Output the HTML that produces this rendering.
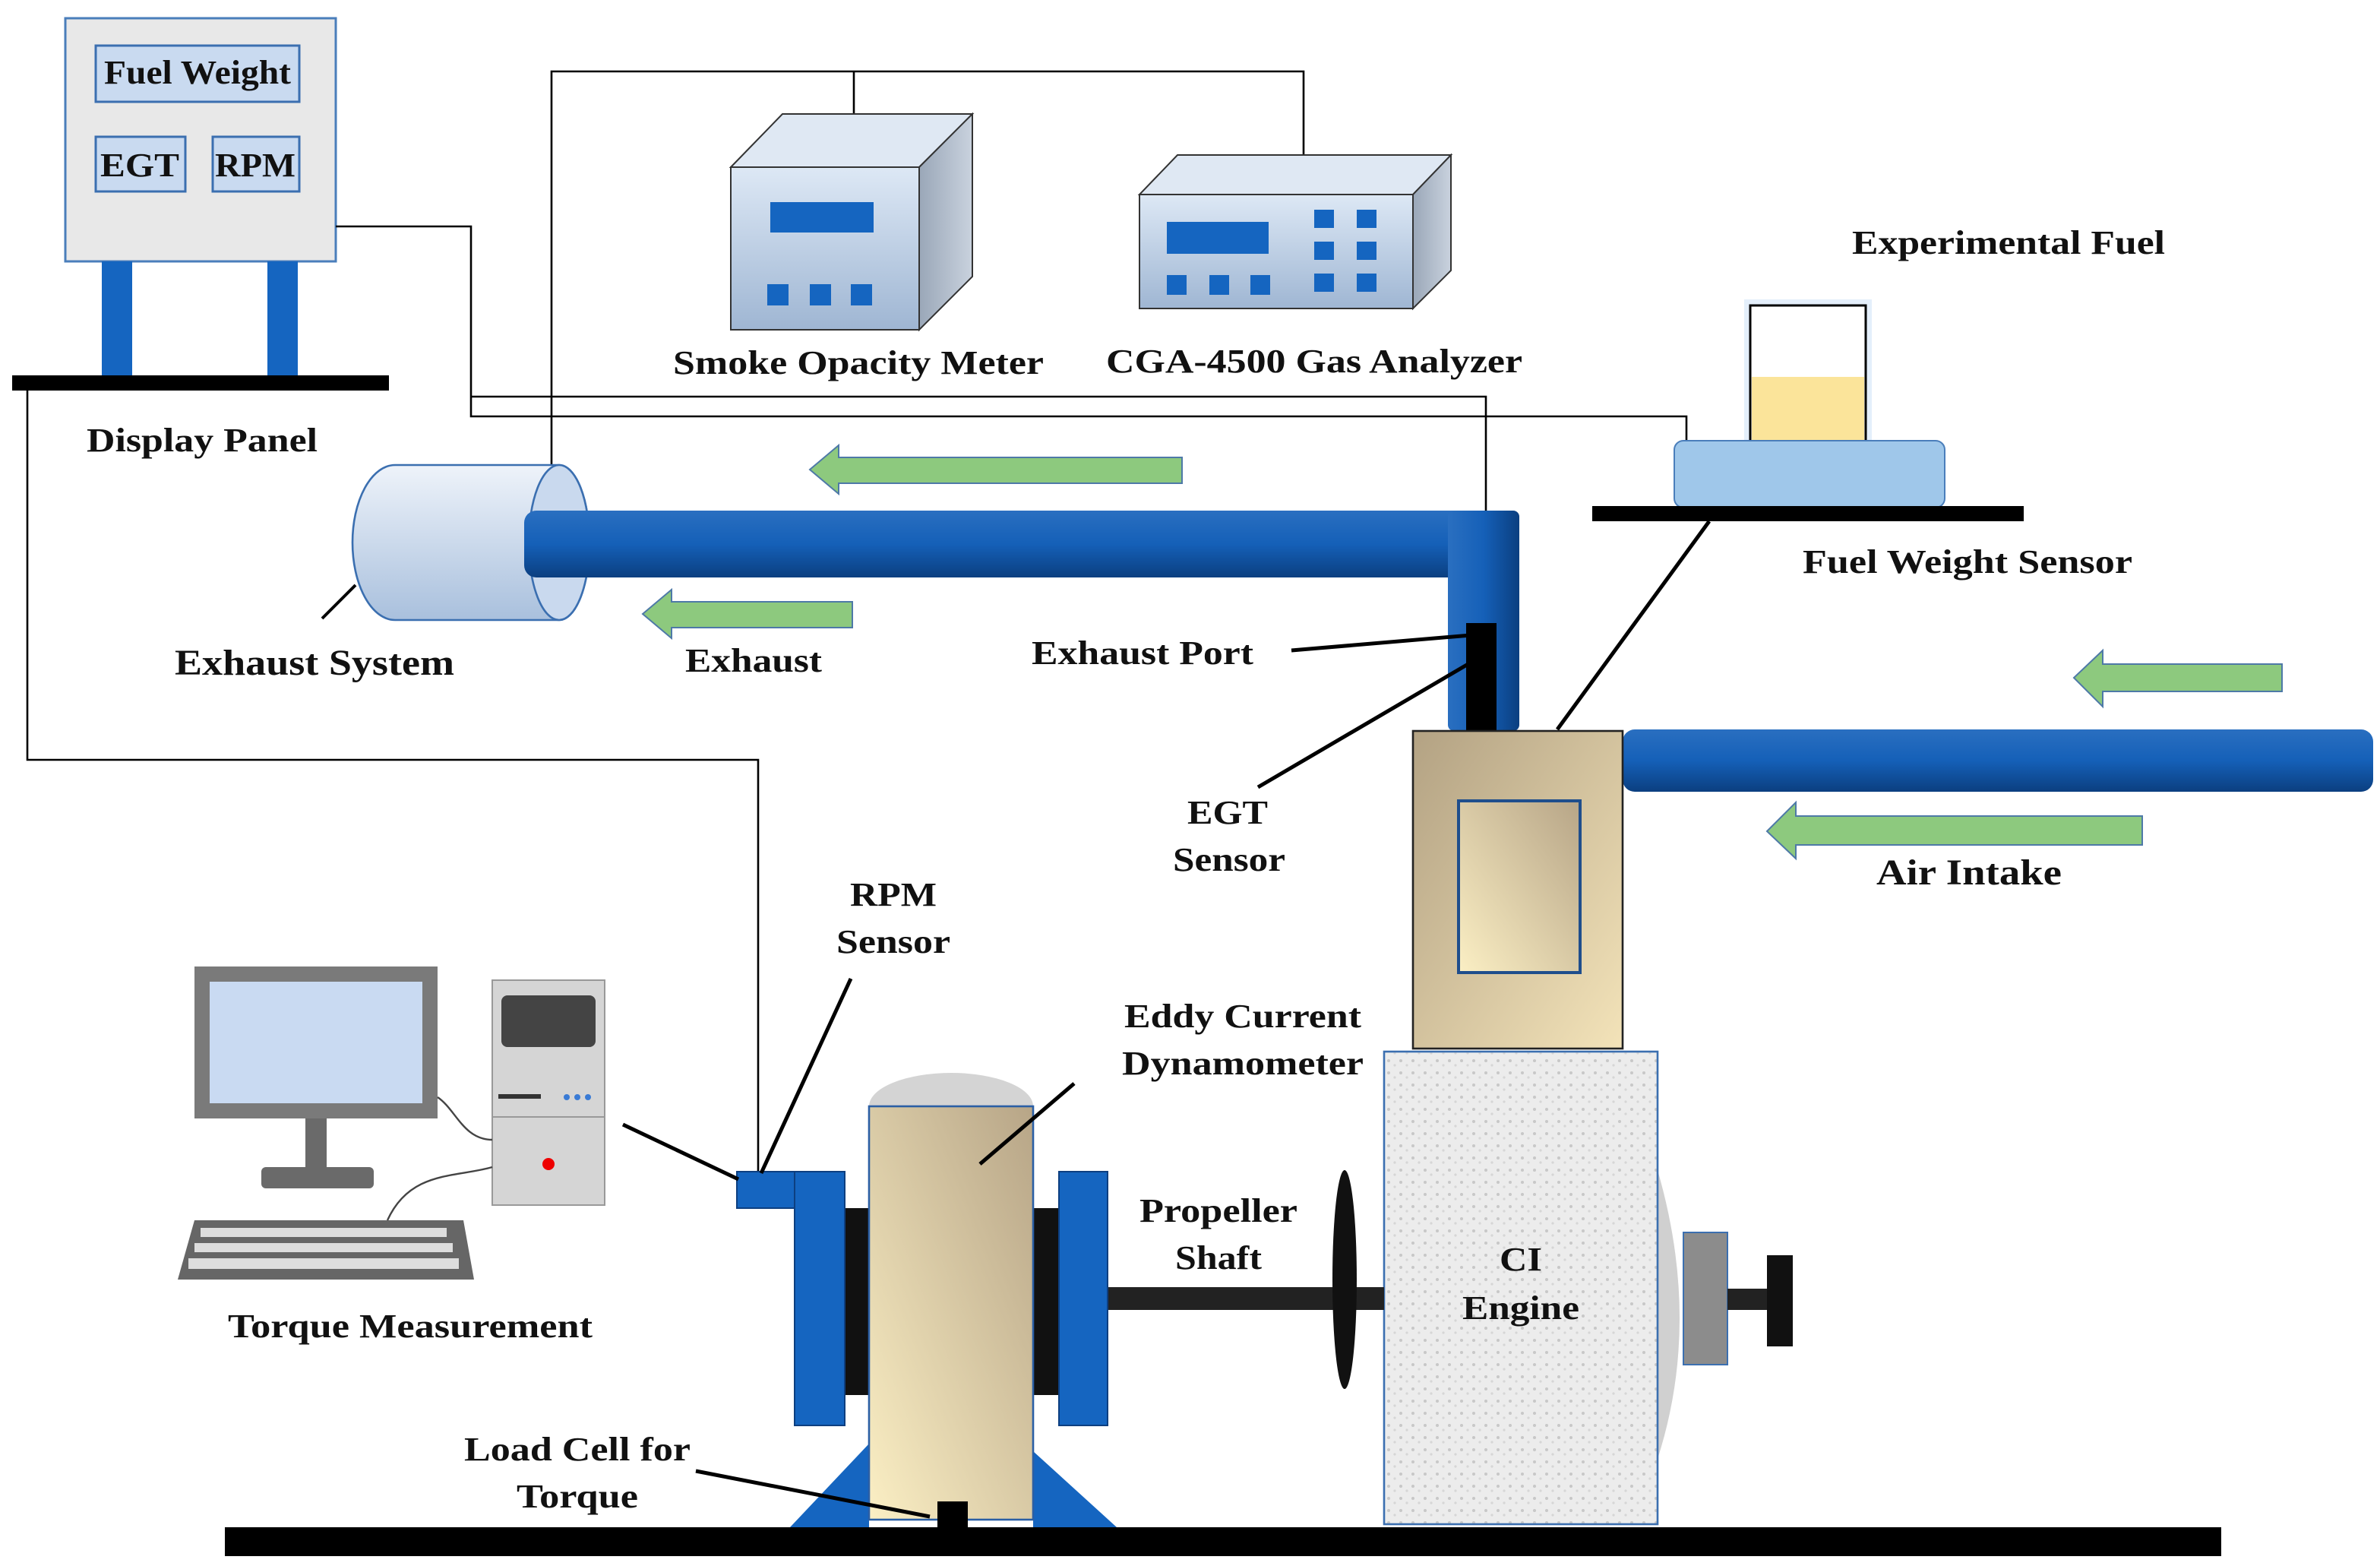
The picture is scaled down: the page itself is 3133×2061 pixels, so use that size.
<!DOCTYPE html>
<html><head><meta charset="utf-8"><style>
html,body{margin:0;padding:0;background:#fff}
svg{display:block}
text{font-family:"Liberation Serif",serif;font-weight:bold;fill:#111}
</style></head><body>
<svg width="3133" height="2061" viewBox="0 0 1566.5 1030.5" preserveAspectRatio="none" xmlns="http://www.w3.org/2000/svg">
<defs>
<linearGradient id="pipeH" x1="0" y1="0" x2="0" y2="1"><stop offset="0" stop-color="#2a6fc0"/><stop offset="0.5" stop-color="#1560b8"/><stop offset="1" stop-color="#0b3f80"/></linearGradient>
<linearGradient id="pipeV" x1="0" y1="0" x2="1" y2="0"><stop offset="0" stop-color="#2a6fc0"/><stop offset="0.5" stop-color="#1560b8"/><stop offset="1" stop-color="#0b3f80"/></linearGradient>
<linearGradient id="tan" x1="0" y1="1" x2="1" y2="0"><stop offset="0" stop-color="#fbefc4"/><stop offset="1" stop-color="#b7a587"/></linearGradient>
<linearGradient id="tan2" x1="0" y1="0" x2="1" y2="1"><stop offset="0" stop-color="#b3a283"/><stop offset="1" stop-color="#f3e3b9"/></linearGradient>
<linearGradient id="box" x1="0" y1="0" x2="0" y2="1"><stop offset="0" stop-color="#dde8f5"/><stop offset="1" stop-color="#9fb6d3"/></linearGradient>
<linearGradient id="side" x1="0" y1="0" x2="1" y2="0"><stop offset="0" stop-color="#9aa7b8"/><stop offset="1" stop-color="#c9d2de"/></linearGradient>
<linearGradient id="muff" x1="0" y1="0" x2="0" y2="1"><stop offset="0" stop-color="#eef3fa"/><stop offset="1" stop-color="#a9c0dd"/></linearGradient>
<pattern id="speck" width="8" height="8" patternUnits="userSpaceOnUse"><rect width="8" height="8" fill="#ececec"/><circle cx="2" cy="2" r="1" fill="#c8c8c8"/><circle cx="6" cy="5" r="0.8" fill="#d6d6d6"/></pattern>
</defs>

<rect x="43" y="12" width="178" height="160" fill="#e8e8e8" stroke="#4a7ebb" stroke-width="1.5"/>
<rect x="63" y="30" width="134" height="37" fill="#c9daf0" stroke="#3b6fb0" stroke-width="1.5"/>
<rect x="63" y="90" width="59" height="36" fill="#c9daf0" stroke="#3b6fb0" stroke-width="1.5"/>
<rect x="140" y="90" width="57" height="36" fill="#c9daf0" stroke="#3b6fb0" stroke-width="1.5"/>
<text x="130" y="55" font-size="22" text-anchor="middle" textLength="123" lengthAdjust="spacingAndGlyphs">Fuel Weight</text>
<text x="92" y="116" font-size="22" text-anchor="middle" textLength="52" lengthAdjust="spacingAndGlyphs">EGT</text>
<text x="168" y="116" font-size="22" text-anchor="middle" textLength="53" lengthAdjust="spacingAndGlyphs">RPM</text>
<rect x="67" y="172" width="20" height="76" fill="#1565c0"/>
<rect x="176" y="172" width="20" height="76" fill="#1565c0"/>
<rect x="8" y="247" width="248" height="10" fill="#000"/>
<text x="133" y="297" font-size="22" text-anchor="middle" textLength="152" lengthAdjust="spacingAndGlyphs">Display Panel</text>

<g fill="none" stroke="#000" stroke-width="1.3">
<polyline points="363,312 363,47 858,47 858,102"/>
<polyline points="562,47 562,76"/>
<polyline points="221,149 310,149 310,274 1110,274 1110,292"/>
<polyline points="310,261 978,261 978,412"/>
<polyline points="18,257 18,500 499,500 499,772"/>
</g>

<polygon points="481,110 515,75 640,75 605,110" fill="#dfe8f3" stroke="#333"/>
<polygon points="605,110 640,75 640,182 605,217" fill="url(#side)" stroke="#333"/>
<rect x="481" y="110" width="124" height="107" fill="url(#box)" stroke="#333"/>
<rect x="507" y="133" width="68" height="20" fill="#1565c0"/>
<rect x="505" y="187" width="14" height="14" fill="#1565c0"/>
<rect x="533" y="187" width="14" height="14" fill="#1565c0"/>
<rect x="560" y="187" width="14" height="14" fill="#1565c0"/>
<text x="565" y="246" font-size="22" text-anchor="middle" textLength="244" lengthAdjust="spacingAndGlyphs">Smoke Opacity Meter</text>

<polygon points="750,128 775,102 955,102 930,128" fill="#dfe8f3" stroke="#333"/>
<polygon points="930,128 955,102 955,178 930,203" fill="url(#side)" stroke="#333"/>
<rect x="750" y="128" width="180" height="75" fill="url(#box)" stroke="#333"/>
<rect x="768" y="146" width="67" height="21" fill="#1565c0"/>
<rect x="768" y="181" width="13" height="13" fill="#1565c0"/>
<rect x="796" y="181" width="13" height="13" fill="#1565c0"/>
<rect x="823" y="181" width="13" height="13" fill="#1565c0"/>
<rect x="865" y="138" width="13" height="12" fill="#1565c0"/>
<rect x="893" y="138" width="13" height="12" fill="#1565c0"/>
<rect x="865" y="159" width="13" height="12" fill="#1565c0"/>
<rect x="893" y="159" width="13" height="12" fill="#1565c0"/>
<rect x="865" y="180" width="13" height="12" fill="#1565c0"/>
<rect x="893" y="180" width="13" height="12" fill="#1565c0"/>
<text x="865" y="245" font-size="22" text-anchor="middle" textLength="274" lengthAdjust="spacingAndGlyphs">CGA-4500 Gas Analyzer</text>

<text x="1322" y="167" font-size="22" text-anchor="middle" textLength="206" lengthAdjust="spacingAndGlyphs">Experimental Fuel</text>
<rect x="1148" y="197" width="84" height="98" fill="#d9e8fa" opacity="0.7"/>
<rect x="1152" y="201" width="76" height="90" fill="#fff" stroke="#000" stroke-width="1.5"/>
<rect x="1153" y="248" width="74" height="42" fill="#fbe49a"/>
<rect x="1102" y="290" width="178" height="44" rx="6" fill="#9fc7ea" stroke="#4a7ebb"/>
<rect x="1048" y="333" width="284" height="10" fill="#000"/>
<text x="1295" y="377" font-size="22" text-anchor="middle" textLength="217" lengthAdjust="spacingAndGlyphs">Fuel Weight Sensor</text>
<line x1="1125" y1="343" x2="1025" y2="480" stroke="#000" stroke-width="2.5"/>

<path d="M260,306 L368,306 A20,51 0 0 1 368,408 L260,408 A28,51 0 0 1 260,306 Z" fill="url(#muff)" stroke="#3b6fb0" stroke-width="1.3"/>
<ellipse cx="368" cy="357" rx="20" ry="51" fill="#c9d9ee" stroke="#3b6fb0" stroke-width="1.3"/>
<rect x="345" y="336" width="655" height="44" rx="8" fill="url(#pipeH)"/>
<rect x="953" y="336" width="47" height="145" rx="4" fill="url(#pipeV)"/>
<rect x="965" y="410" width="20" height="71" fill="#000"/>
<line x1="234" y1="385" x2="212" y2="407" stroke="#000" stroke-width="2"/>
<text x="207" y="444" font-size="24" text-anchor="middle" textLength="184" lengthAdjust="spacingAndGlyphs">Exhaust System</text>
<text x="496" y="442" font-size="22" text-anchor="middle" textLength="90" lengthAdjust="spacingAndGlyphs">Exhaust</text>
<text x="752" y="437" font-size="22" text-anchor="middle" textLength="146" lengthAdjust="spacingAndGlyphs">Exhaust Port</text>
<line x1="850" y1="428" x2="968" y2="418" stroke="#000" stroke-width="2.5"/>
<line x1="828" y1="518" x2="968" y2="436" stroke="#000" stroke-width="2.5"/>
<text x="808" y="542" font-size="22" text-anchor="middle" textLength="53" lengthAdjust="spacingAndGlyphs">EGT</text>
<text x="809" y="573" font-size="22" text-anchor="middle" textLength="74" lengthAdjust="spacingAndGlyphs">Sensor</text>

<g fill="#8dc97e" stroke="#4e79a7" stroke-width="1">
<polygon points="533,309 552,293 552,301 778,301 778,318 552,318 552,325"/>
<polygon points="423,404 442,388 442,396 561,396 561,413 442,413 442,420"/>
<polygon points="1365,446 1384,428 1384,437 1502,437 1502,455 1384,455 1384,465"/>
<polygon points="1163,547 1182,528 1182,537 1410,537 1410,556 1182,556 1182,565"/>
</g>
<text x="1296" y="582" font-size="24" text-anchor="middle" textLength="122" lengthAdjust="spacingAndGlyphs">Air Intake</text>

<rect x="1068" y="480" width="494" height="41" rx="8" fill="url(#pipeH)"/>
<rect x="930" y="481" width="138" height="209" fill="url(#tan2)" stroke="#222" stroke-width="1.3"/>
<rect x="960" y="527" width="80" height="113" fill="url(#tan)" stroke="#1f4e8c" stroke-width="2"/>

<path d="M1091,770 Q1120,870 1091,960 Z" fill="#d0d0d0"/>
<rect x="911" y="692" width="180" height="311" fill="url(#speck)" stroke="#3b6fb0" stroke-width="1.3"/>
<rect x="1108" y="811" width="29" height="87" fill="#8c8c8c" stroke="#3b6fb0"/>
<rect x="1137" y="848" width="28" height="14" fill="#222"/>
<rect x="1163" y="826" width="17" height="60" fill="#111"/>
<text x="1001" y="836" font-size="22" text-anchor="middle" textLength="28" lengthAdjust="spacingAndGlyphs">CI</text>
<text x="1001" y="868" font-size="22" text-anchor="middle" textLength="77" lengthAdjust="spacingAndGlyphs">Engine</text>

<rect x="728" y="847" width="183" height="15" fill="#222"/>
<ellipse cx="885" cy="842" rx="8" ry="72" fill="#111"/>
<text x="802" y="804" font-size="22" text-anchor="middle" textLength="104" lengthAdjust="spacingAndGlyphs">Propeller</text>
<text x="802" y="835" font-size="22" text-anchor="middle" textLength="57" lengthAdjust="spacingAndGlyphs">Shaft</text>

<polygon points="520,1005 572,950 572,1005" fill="#1565c0"/>
<polygon points="680,955 680,1005 735,1005" fill="#1565c0"/>
<rect x="556" y="795" width="16" height="123" fill="#111"/>
<rect x="680" y="795" width="17" height="123" fill="#111"/>
<rect x="523" y="771" width="33" height="167" fill="#1565c0" stroke="#0d3f80"/>
<rect x="697" y="771" width="32" height="167" fill="#1565c0" stroke="#0d3f80"/>
<ellipse cx="626" cy="728" rx="54" ry="22" fill="#d4d4d4"/>
<rect x="572" y="728" width="108" height="272" fill="url(#tan)" stroke="#2b5fa5" stroke-width="1.3"/>
<rect x="617" y="988" width="20" height="18" fill="#000"/>
<rect x="485" y="771" width="38" height="24" fill="#1565c0" stroke="#0d3f80"/>
<line x1="645" y1="766" x2="707" y2="713" stroke="#000" stroke-width="2.5"/>
<text x="818" y="676" font-size="22" text-anchor="middle" textLength="156" lengthAdjust="spacingAndGlyphs">Eddy Current</text>
<text x="818" y="707" font-size="22" text-anchor="middle" textLength="159" lengthAdjust="spacingAndGlyphs">Dynamometer</text>
<line x1="501" y1="772" x2="560" y2="644" stroke="#000" stroke-width="2.5"/>
<text x="588" y="596" font-size="22" text-anchor="middle" textLength="57" lengthAdjust="spacingAndGlyphs">RPM</text>
<text x="588" y="627" font-size="22" text-anchor="middle" textLength="75" lengthAdjust="spacingAndGlyphs">Sensor</text>
<line x1="458" y1="968" x2="612" y2="998" stroke="#000" stroke-width="2.5"/>
<text x="380" y="961" font-size="22" text-anchor="middle" textLength="149" lengthAdjust="spacingAndGlyphs">Load Cell for</text>
<text x="380" y="992" font-size="22" text-anchor="middle" textLength="80" lengthAdjust="spacingAndGlyphs">Torque</text>
<line x1="410" y1="740" x2="486" y2="776" stroke="#000" stroke-width="2.5"/>

<rect x="128" y="636" width="160" height="100" fill="#7a7a7a"/>
<rect x="138" y="646" width="140" height="80" fill="#c9daf2"/>
<rect x="201" y="736" width="14" height="34" fill="#6a6a6a"/>
<rect x="172" y="768" width="74" height="14" rx="3" fill="#6a6a6a"/>
<polygon points="128,803 305,803 312,842 117,842" fill="#666"/>
<g fill="#ddd">
<rect x="132" y="808" width="162" height="6"/><rect x="128" y="818" width="170" height="6"/><rect x="124" y="828" width="178" height="7"/>
</g>
<rect x="324" y="645" width="74" height="148" fill="#d5d5d5" stroke="#999"/>
<rect x="330" y="655" width="62" height="34" rx="4" fill="#444"/>
<rect x="328" y="720" width="28" height="3" fill="#333"/>
<circle cx="373" cy="722" r="2" fill="#3a7bd5"/><circle cx="380" cy="722" r="2" fill="#3a7bd5"/><circle cx="387" cy="722" r="2" fill="#3a7bd5"/>
<line x1="324" y1="735" x2="398" y2="735" stroke="#999"/>
<circle cx="361" cy="766" r="4" fill="#e00"/>
<path d="M288,722 C300,730 305,750 324,750" fill="none" stroke="#444" stroke-width="1.2"/>
<path d="M255,803 C270,770 300,775 324,768" fill="none" stroke="#444" stroke-width="1.2"/>
<text x="270" y="880" font-size="22" text-anchor="middle" textLength="240" lengthAdjust="spacingAndGlyphs">Torque Measurement</text>

<rect x="148" y="1005" width="1314" height="19" fill="#000"/>
</svg>
</body></html>
